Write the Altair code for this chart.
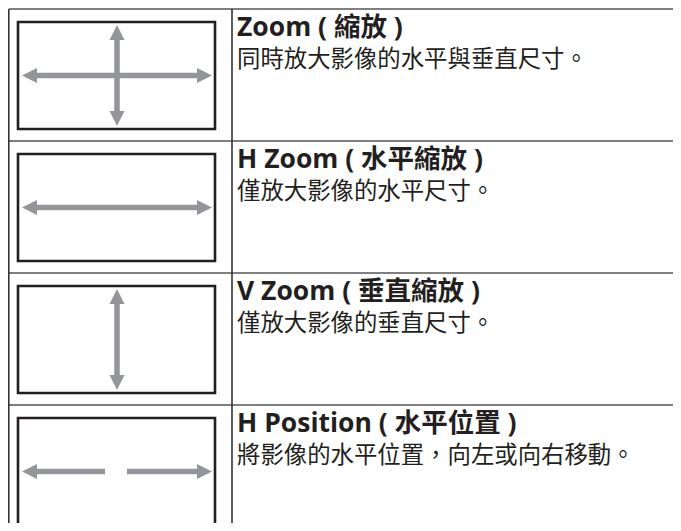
import altair as alt
import pandas as pd

# ---- content ----
titles = ["Zoom ( 縮放 )", "H Zoom ( 水平縮放 )", "V Zoom ( 垂直縮放 )", "H Position ( 水平位置 )"]
descs = ["同時放大影像的水平與垂直尺寸。", "僅放大影像的水平尺寸。", "僅放大影像的垂直尺寸。", "將影像的水平位置，向左或向右移動。"]
has_h_arrow = [True, True, False, True]
has_v_arrow = [True, False, True, False]
split_h_arrow = [False, False, False, True]

# ---- layout (page pixels) ----
ROW_TOP0, ROW_H = 9, 132
LEFT, COL_X, RIGHT_END, BOTTOM_END = 8.8, 232, 700, 560
BOX_X0, BOX_X1 = 18, 215
BOX_T, BOX_B = 13, 120
H_TIP_L, H_TIP_R, H_Y = 22, 212, 66.5
V_X, V_TIP_T, V_TIP_B = 117, 16, 117
SPLIT_L, SPLIT_R = 105, 127
HEAD = 15
TEXT_X, TITLE_DY, DESC_DY = 237, 27, 57.5

W, H = 665, 515
xs = alt.Scale(domain=[8, 8 + W], nice=False, zero=False)
ys = alt.Scale(domain=[8, 8 + H], nice=False, zero=False, reverse=True)
ax = dict(axis=None, scale=xs)
ay = dict(axis=None, scale=ys)

n = len(titles)
row_tops = [ROW_TOP0 + ROW_H * i for i in range(n)]

hl = pd.DataFrame({"x": LEFT, "x2": RIGHT_END, "y": [ROW_TOP0 + ROW_H * i for i in range(n + 1)]})
vl = pd.DataFrame({"x": [LEFT, COL_X], "y": ROW_TOP0, "y2": BOTTOM_END})

boxes = pd.DataFrame({"x": BOX_X0, "x2": BOX_X1,
                      "y": [t + BOX_T for t in row_tops], "y2": [t + BOX_B for t in row_tops]})

shafts, heads = [], []
for i, t in enumerate(row_tops):
    if has_h_arrow[i]:
        y = t + H_Y
        if split_h_arrow[i]:
            shafts.append(dict(x=H_TIP_L + HEAD - 3, x2=SPLIT_L, y=y, y2=y))
            shafts.append(dict(x=SPLIT_R, x2=H_TIP_R - HEAD + 3, y=y, y2=y))
        else:
            shafts.append(dict(x=H_TIP_L + HEAD - 3, x2=H_TIP_R - HEAD + 3, y=y, y2=y))
        heads.append(dict(x=H_TIP_L, y=y, d="left"))
        heads.append(dict(x=H_TIP_R, y=y, d="right"))
    if has_v_arrow[i]:
        shafts.append(dict(x=V_X, x2=V_X, y=t + V_TIP_T + HEAD - 3, y2=t + V_TIP_B - HEAD + 3))
        heads.append(dict(x=V_X, y=t + V_TIP_T, d="up"))
        heads.append(dict(x=V_X, y=t + V_TIP_B, d="down"))
shafts = pd.DataFrame(shafts)
heads = pd.DataFrame(heads)

texts = pd.DataFrame({"x": TEXT_X, "ty": [t + TITLE_DY for t in row_tops],
                      "dy": [t + DESC_DY for t in row_tops], "title": titles, "desc": descs})

FONT = "'Open Sans', 'Noto Sans CJK TC', sans-serif"
INK = "#231f20"
GRAY = "#939598"

grid_h = alt.Chart(hl).mark_rule(color="#555555", strokeWidth=1.6, clip=True).encode(
    x=alt.X("x:Q", **ax), x2="x2", y=alt.Y("y:Q", **ay))
grid_v = alt.Chart(vl).mark_rule(color="#333333", strokeWidth=1.6, clip=True).encode(
    x=alt.X("x:Q", **ax), y=alt.Y("y:Q", **ay), y2="y2")
box = alt.Chart(boxes).mark_rect(fill="white", stroke=INK, strokeWidth=2.6).encode(
    x=alt.X("x:Q", **ax), x2="x2", y=alt.Y("y:Q", **ay), y2="y2")
shaft = alt.Chart(shafts).mark_rule(color=GRAY, strokeWidth=5.5).encode(
    x=alt.X("x:Q", **ax), x2="x2", y=alt.Y("y:Q", **ay), y2="y2")
head = alt.Chart(heads).mark_point(filled=True, opacity=1, size=HEAD * HEAD, color=GRAY, strokeWidth=0).encode(
    x=alt.X("x:Q", **ax), y=alt.Y("y:Q", **ay),
    shape=alt.Shape("d:N", legend=None, scale=alt.Scale(
        domain=["left", "right", "up", "down"],
        range=["M0,0L2,-1L2,1Z", "M0,0L-2,-1L-2,1Z", "M0,0L-1,2L1,2Z", "M0,0L-1,-2L1,-2Z"])))
title_t = alt.Chart(texts).mark_text(align="left", baseline="alphabetic", font=FONT, fontSize=26.5,
                                     fontWeight="bold", color=INK).encode(
    x=alt.X("x:Q", **ax), y=alt.Y("ty:Q", **ay), text="title")
desc_t = alt.Chart(texts).mark_text(align="left", baseline="alphabetic", font=FONT, fontSize=23.4,
                                    color=INK).encode(
    x=alt.X("x:Q", **ax), y=alt.Y("dy:Q", **ay), text="desc")

chart = alt.layer(grid_h, grid_v, box, shaft, head, title_t, desc_t).properties(
    width=W, height=H, padding=0, autosize="none", background="white"
).configure_view(stroke=None)

chart.save("out.html", embed_options={"renderer": "svg", "actions": False})
